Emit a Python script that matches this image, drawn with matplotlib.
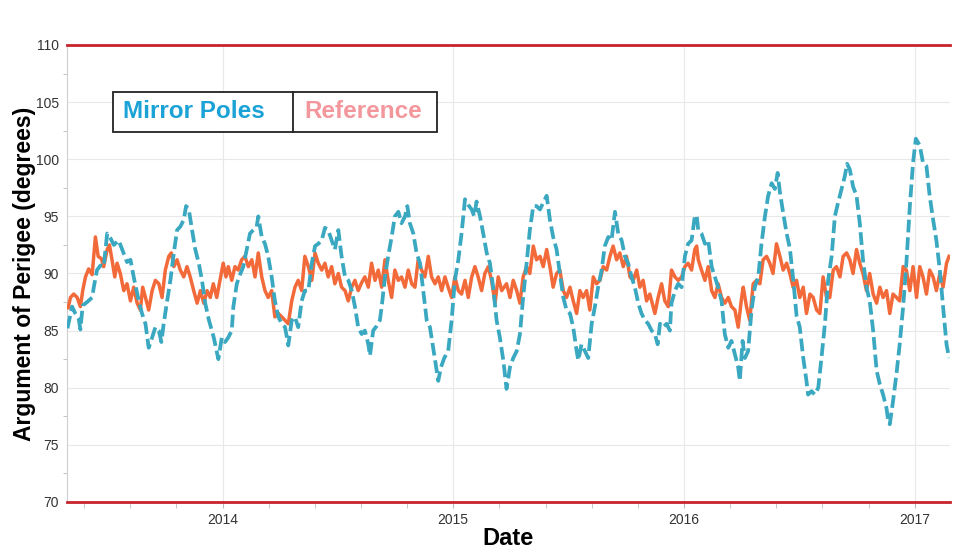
import matplotlib
matplotlib.use("Agg")
import matplotlib.pyplot as plt
from matplotlib.patches import Rectangle
from matplotlib.ticker import MultipleLocator, FixedLocator

plt.rcParams['font.family'] = ['Liberation Sans', 'DejaVu Sans']

# Mirror Poles (decimal year, degrees)
mirror_t = [
    2013.328, 2013.348, 2013.362, 2013.377, 2013.384, 2013.394, 2013.413, 2013.435, 2013.442, 2013.456,
    2013.471, 2013.485, 2013.500, 2013.514, 2013.529, 2013.550, 2013.565, 2013.586, 2013.601, 2013.615,
    2013.637, 2013.651, 2013.666, 2013.680, 2013.695, 2013.709, 2013.724, 2013.735, 2013.745, 2013.760,
    2013.774, 2013.789, 2013.803, 2013.817, 2013.832, 2013.842, 2013.854, 2013.868, 2013.882, 2013.897,
    2013.911, 2013.925, 2013.940, 2013.962, 2013.982, 2013.997, 2014.011, 2014.025, 2014.040, 2014.047,
    2014.062, 2014.076, 2014.090, 2014.105, 2014.119, 2014.133, 2014.148, 2014.155, 2014.170, 2014.184,
    2014.198, 2014.213, 2014.227, 2014.242, 2014.257, 2014.271, 2014.285, 2014.300, 2014.314, 2014.328,
    2014.343, 2014.357, 2014.372, 2014.387, 2014.401, 2014.415, 2014.430, 2014.444, 2014.458, 2014.473,
    2014.487, 2014.502, 2014.516, 2014.531, 2014.545, 2014.560, 2014.574, 2014.588, 2014.603, 2014.617,
    2014.632, 2014.639, 2014.653, 2014.668, 2014.682, 2014.690, 2014.704, 2014.718, 2014.733, 2014.747,
    2014.762, 2014.776, 2014.791, 2014.801, 2014.812, 2014.827, 2014.841, 2014.856, 2014.870, 2014.885,
    2014.899, 2014.913, 2014.928, 2014.935, 2014.947, 2014.961, 2014.978, 2014.993, 2015.007, 2015.022,
    2015.036, 2015.051, 2015.065, 2015.080, 2015.091, 2015.101, 2015.116, 2015.130, 2015.145, 2015.159,
    2015.173, 2015.188, 2015.202, 2015.217, 2015.231, 2015.246, 2015.260, 2015.275, 2015.289, 2015.303,
    2015.318, 2015.332, 2015.347, 2015.361, 2015.376, 2015.390, 2015.405, 2015.419, 2015.433, 2015.448,
    2015.462, 2015.477, 2015.491, 2015.506, 2015.520, 2015.535, 2015.542, 2015.556, 2015.571, 2015.585,
    2015.600, 2015.614, 2015.628, 2015.643, 2015.657, 2015.672, 2015.686, 2015.701, 2015.715, 2015.730,
    2015.744, 2015.758, 2015.773, 2015.787, 2015.802, 2015.816, 2015.831, 2015.845, 2015.860, 2015.874,
    2015.886, 2015.896, 2015.910, 2015.925, 2015.939, 2015.946, 2015.961, 2015.975, 2015.990, 2016.004,
    2016.018, 2016.033, 2016.047, 2016.055, 2016.062, 2016.076, 2016.091, 2016.105, 2016.120, 2016.134,
    2016.148, 2016.163, 2016.177, 2016.192, 2016.206, 2016.221, 2016.235, 2016.242, 2016.254, 2016.264,
    2016.278, 2016.293, 2016.307, 2016.322, 2016.336, 2016.351, 2016.365, 2016.380, 2016.394, 2016.406,
    2016.416, 2016.430, 2016.445, 2016.459, 2016.473, 2016.488, 2016.502, 2016.517, 2016.531, 2016.538,
    2016.553, 2016.567, 2016.582, 2016.596, 2016.611, 2016.625, 2016.640, 2016.654, 2016.668, 2016.683,
    2016.697, 2016.707, 2016.719, 2016.733, 2016.748, 2016.762, 2016.776, 2016.791, 2016.805, 2016.820,
    2016.835, 2016.849, 2016.863, 2016.878, 2016.885, 2016.892, 2016.906, 2016.921, 2016.935, 2016.950,
    2016.964, 2016.979, 2016.993, 2017.005, 2017.022, 2017.036, 2017.051, 2017.065, 2017.080, 2017.094,
    2017.109, 2017.123, 2017.138, 2017.149,
]
mirror_v = [
    85.2, 87.1, 86.5, 86.0, 85.1, 87.2, 87.5, 87.9, 88.8, 90.3,
    90.7, 90.6, 93.5, 93.1, 92.5, 92.9, 92.1, 91.0, 91.2, 89.7,
    87.6, 86.5, 85.6, 83.5, 84.4, 85.3, 85.0, 84.0, 85.6, 87.6,
    89.4, 91.8, 93.8, 94.1, 94.7, 95.9, 95.6, 93.8, 92.1, 90.9,
    89.4, 87.4, 86.0, 84.4, 82.5, 84.4, 84.0, 84.4, 85.0, 87.1,
    89.1, 89.9, 90.6, 92.1, 93.5, 93.8, 94.1, 95.0, 93.2, 92.6,
    91.5, 89.7, 87.6, 86.2, 85.6, 85.3, 83.7, 85.9, 86.2, 85.3,
    87.6, 88.5, 88.5, 90.9, 92.4, 92.6, 92.9, 94.0, 93.8, 92.9,
    92.1, 93.8, 91.5, 89.7, 89.4, 88.5, 87.1, 85.3, 84.7, 85.0,
    83.8, 82.8, 85.0, 85.4, 85.9, 87.1, 89.7, 91.5, 93.2, 95.0,
    95.4, 94.4, 95.0, 95.9, 94.4, 93.5, 91.8, 90.9, 88.5, 85.9,
    85.3, 83.5, 81.5, 80.6, 81.8, 82.6, 83.2, 85.9, 89.4, 91.2,
    93.5, 96.5, 96.0, 95.6, 95.0, 96.3, 95.0, 93.5, 91.8, 90.9,
    88.8, 85.9, 84.4, 82.4, 79.9, 81.8, 82.6, 83.2, 84.7, 87.9,
    90.9, 93.8, 95.9, 95.9, 95.6, 96.2, 96.8, 94.7, 93.2, 92.1,
    90.0, 87.9, 86.8, 86.5, 85.3, 83.2, 82.4, 83.8, 83.2, 82.6,
    85.6, 87.1, 88.8, 90.3, 92.4, 93.2, 92.9, 95.4, 93.5, 92.9,
    91.5, 90.9, 89.7, 88.8, 87.4, 86.5, 85.9, 85.6, 85.0, 84.7,
    83.8, 85.6, 85.3, 85.6, 85.0, 87.4, 88.5, 89.1, 88.8, 91.5,
    92.6, 92.9, 95.0, 95.1, 93.8, 93.5, 92.6, 92.9, 90.6, 89.7,
    88.8, 87.6, 84.7, 83.5, 84.1, 82.9, 81.8, 80.6, 84.1, 82.6,
    83.2, 86.8, 88.8, 89.7, 92.6, 95.0, 96.8, 97.9, 97.4, 98.8,
    97.1, 95.3, 93.5, 92.2, 89.6, 86.3, 85.3, 82.6, 80.6, 79.4,
    79.7, 79.4, 80.0, 82.6, 85.6, 89.4, 91.5, 95.0, 96.2, 97.4,
    98.5, 99.6, 99.1, 97.6, 96.8, 94.4, 91.2, 88.8, 87.6, 85.0,
    81.5, 80.3, 79.4, 78.2, 77.1, 76.8, 78.8, 81.2, 83.8, 87.1,
    90.9, 95.9, 99.7, 101.8, 101.2, 99.7, 99.4, 96.8, 94.7, 92.9,
    90.3, 87.1, 83.8, 82.6,
]

# Reference (decimal year, degrees)
ref_t = [
    2013.331, 2013.341, 2013.355, 2013.370, 2013.384, 2013.394, 2013.406, 2013.420, 2013.435, 2013.449,
    2013.461, 2013.475, 2013.485, 2013.500, 2013.510, 2013.521, 2013.533, 2013.543, 2013.557, 2013.572,
    2013.586, 2013.601, 2013.615, 2013.630, 2013.644, 2013.654, 2013.666, 2013.680, 2013.695, 2013.709,
    2013.724, 2013.738, 2013.752, 2013.767, 2013.778, 2013.789, 2013.803, 2013.817, 2013.832, 2013.846,
    2013.860, 2013.875, 2013.890, 2013.904, 2013.919, 2013.933, 2013.947, 2013.960, 2013.975, 2013.989,
    2014.003, 2014.015, 2014.025, 2014.040, 2014.054, 2014.068, 2014.083, 2014.097, 2014.112, 2014.127,
    2014.141, 2014.155, 2014.170, 2014.184, 2014.198, 2014.213, 2014.227, 2014.242, 2014.257, 2014.271,
    2014.285, 2014.300, 2014.314, 2014.328, 2014.343, 2014.357, 2014.372, 2014.387, 2014.401, 2014.415,
    2014.430, 2014.444, 2014.458, 2014.473, 2014.487, 2014.502, 2014.516, 2014.531, 2014.545, 2014.560,
    2014.574, 2014.588, 2014.603, 2014.617, 2014.632, 2014.646, 2014.661, 2014.675, 2014.690, 2014.704,
    2014.718, 2014.733, 2014.747, 2014.762, 2014.776, 2014.791, 2014.805, 2014.820, 2014.834, 2014.848,
    2014.863, 2014.877, 2014.892, 2014.906, 2014.921, 2014.935, 2014.950, 2014.964, 2014.978, 2014.993,
    2015.007, 2015.022, 2015.036, 2015.051, 2015.065, 2015.080, 2015.094, 2015.108, 2015.123, 2015.137,
    2015.152, 2015.166, 2015.181, 2015.195, 2015.210, 2015.231, 2015.246, 2015.260, 2015.275, 2015.289,
    2015.303, 2015.318, 2015.332, 2015.347, 2015.361, 2015.376, 2015.390, 2015.405, 2015.419, 2015.433,
    2015.448, 2015.462, 2015.477, 2015.491, 2015.506, 2015.520, 2015.535, 2015.549, 2015.563, 2015.578,
    2015.592, 2015.607, 2015.621, 2015.636, 2015.650, 2015.665, 2015.679, 2015.693, 2015.708, 2015.722,
    2015.737, 2015.751, 2015.766, 2015.780, 2015.795, 2015.809, 2015.823, 2015.838, 2015.852, 2015.874,
    2015.888, 2015.903, 2015.917, 2015.932, 2015.946, 2015.961, 2015.975, 2015.990, 2016.004, 2016.018,
    2016.033, 2016.047, 2016.055, 2016.062, 2016.076, 2016.091, 2016.105, 2016.120, 2016.134, 2016.148,
    2016.163, 2016.177, 2016.192, 2016.206, 2016.221, 2016.235, 2016.250, 2016.257, 2016.271, 2016.285,
    2016.300, 2016.315, 2016.329, 2016.343, 2016.358, 2016.372, 2016.386, 2016.401, 2016.416, 2016.430,
    2016.445, 2016.459, 2016.473, 2016.488, 2016.502, 2016.517, 2016.531, 2016.546, 2016.560, 2016.575,
    2016.589, 2016.603, 2016.618, 2016.632, 2016.647, 2016.661, 2016.676, 2016.690, 2016.705, 2016.719,
    2016.733, 2016.748, 2016.762, 2016.776, 2016.791, 2016.805, 2016.820, 2016.835, 2016.849, 2016.863,
    2016.878, 2016.892, 2016.906, 2016.921, 2016.935, 2016.950, 2016.964, 2016.979, 2016.993, 2017.008,
    2017.022, 2017.036, 2017.051, 2017.065, 2017.080, 2017.094, 2017.109, 2017.123, 2017.138, 2017.149,
]
ref_v = [
    87.0, 87.9, 88.2, 87.9, 87.1, 88.5, 89.7, 90.4, 89.9, 93.2,
    91.5, 91.3, 90.6, 92.1, 92.5, 91.2, 89.7, 90.9, 90.0, 88.5,
    89.1, 87.6, 88.8, 87.4, 86.8, 88.8, 87.9, 86.8, 88.5, 89.4,
    89.1, 87.9, 90.3, 91.5, 91.8, 90.6, 91.2, 90.3, 89.7, 90.6,
    89.7, 88.5, 87.4, 88.5, 87.4, 88.5, 87.9, 89.1, 87.9, 89.4,
    90.9, 89.7, 90.6, 89.4, 90.6, 90.3, 91.2, 91.5, 90.6, 91.2,
    89.7, 91.8, 89.7, 88.5, 87.9, 88.5, 86.2, 86.5, 86.2, 85.9,
    85.6, 87.6, 88.8, 89.4, 88.5, 91.5, 90.6, 89.4, 91.8, 90.9,
    90.3, 90.9, 89.7, 90.6, 89.1, 90.0, 88.8, 88.5, 87.6, 88.8,
    89.4, 88.5, 89.2, 89.7, 88.8, 90.9, 89.4, 90.3, 88.8, 91.2,
    89.4, 87.9, 90.3, 89.4, 89.7, 88.8, 90.3, 89.1, 88.8, 91.2,
    90.3, 89.7, 91.5, 89.7, 89.1, 89.7, 88.5, 89.7, 88.8, 87.9,
    89.7, 88.5, 88.2, 89.4, 87.9, 89.7, 90.6, 89.7, 88.5, 90.0,
    90.6, 89.4, 87.4, 89.7, 88.5, 89.1, 87.9, 89.4, 88.5, 87.4,
    89.7, 90.6, 90.0, 92.4, 91.2, 91.5, 90.6, 92.1, 90.6, 88.8,
    90.0, 90.3, 88.5, 87.9, 88.8, 87.6, 86.5, 88.5, 87.9, 88.5,
    86.8, 89.7, 89.1, 89.4, 90.6, 90.3, 91.5, 92.4, 91.2, 91.8,
    90.6, 91.5, 89.7, 89.4, 90.3, 88.8, 89.4, 87.6, 88.2, 86.5,
    87.9, 89.1, 87.6, 87.1, 90.3, 89.7, 89.4, 89.7, 90.6, 90.9,
    90.3, 92.1, 92.4, 91.2, 90.3, 89.4, 90.6, 88.5, 87.9, 89.1,
    87.9, 87.4, 87.9, 87.1, 86.8, 85.3, 87.9, 88.8, 87.1, 85.9,
    89.1, 89.4, 89.1, 91.2, 91.5, 90.9, 90.0, 92.6, 91.5, 90.3,
    90.9, 90.0, 88.8, 89.4, 87.9, 88.8, 86.5, 88.2, 87.9, 86.8,
    86.5, 89.7, 87.9, 87.9, 90.3, 90.6, 89.7, 91.5, 91.8, 91.2,
    90.0, 92.1, 90.9, 90.0, 88.5, 90.0, 88.2, 87.4, 88.8, 87.9,
    88.5, 86.5, 88.2, 87.9, 87.6, 90.6, 90.3, 88.5, 90.6, 87.9,
    90.6, 89.7, 88.2, 90.3, 89.7, 88.5, 90.0, 88.8, 90.9, 91.5,
]

years = [2014, 2015, 2016, 2017]
x_range = (2013.326, 2017.153)
y_range = (70, 110)

teal = '#3AA8C0'
orange = '#F26A3A'
red = '#C8232B'

fig = plt.figure(figsize=(9.67, 5.52), dpi=100)
ax = fig.add_axes([0.0693, 0.0906, 0.9131, 0.8279])

ax.plot(ref_t, ref_v, color=orange, lw=2.5, solid_joinstyle='round', zorder=3)
ax.plot(mirror_t, mirror_v, color=teal, lw=2.7, dashes=(3.4, 1.3), zorder=4)

ax.set_xlim(*x_range)
ax.set_ylim(*y_range)

# red limit lines at the top and bottom of the range
for yv in y_range:
    ax.axhline(yv, color=red, lw=2.0, clip_on=False, zorder=5)

ax.xaxis.set_major_locator(FixedLocator(years))
ax.set_xticklabels([str(y) for y in years])
ax.xaxis.set_minor_locator(MultipleLocator(0.2))
ax.yaxis.set_major_locator(MultipleLocator(5))
ax.yaxis.set_minor_locator(MultipleLocator(2.5))

ax.grid(True, which='major', color='#E8E8E8', lw=0.8, zorder=0)
for s in ['top', 'right', 'bottom']:
    ax.spines[s].set_visible(False)
ax.spines['left'].set_color('#CFCFCF')
ax.spines['left'].set_linewidth(0.8)

ax.tick_params(axis='both', which='major', labelsize=10, labelcolor='#333333',
               color='#BBBBBB', length=0, pad=6)
ax.tick_params(axis='y', which='minor', length=3, color='#BBBBBB')
ax.tick_params(axis='x', which='minor', length=4, color='#BBBBBB')
ax.tick_params(axis='x', which='major', length=4, pad=4)

ax.set_xlabel('Date', fontsize=17, fontweight='bold', labelpad=0)
ax.set_ylabel('Argument of Perigee (degrees)', fontsize=16.5, fontweight='bold', labelpad=0)

# legend box with two cells
bx0, by0, bw, bh = 113 / 967, 1 - 132 / 552, 324 / 967, 40 / 552
fig.patches.append(Rectangle((bx0, by0), bw, bh, transform=fig.transFigure,
                             fill=True, facecolor='white', edgecolor='#222222', lw=1.3, zorder=10))
fig.lines.append(plt.Line2D([293 / 967, 293 / 967], [by0, by0 + bh], transform=fig.transFigure,
                            color='#222222', lw=1.3, zorder=11))
fig.text(194 / 967, by0 + bh / 2, 'Mirror Poles', color='#1BA2D6', fontsize=17.5,
         fontweight='bold', ha='center', va='center', zorder=12)
fig.text(363 / 967, by0 + bh / 2, 'Reference', color='#F4979C', fontsize=17.5,
         fontweight='bold', ha='center', va='center', zorder=12)

fig.savefig('out.png', dpi=100)
